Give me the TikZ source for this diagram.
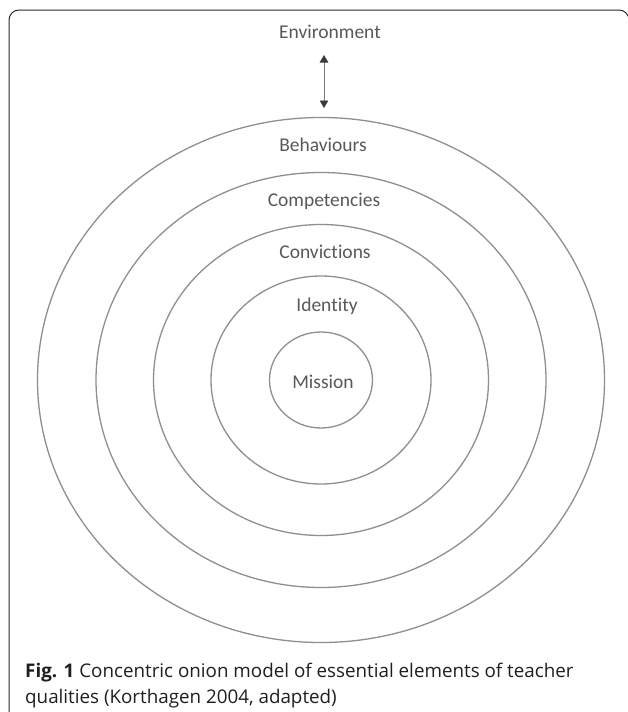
\documentclass[tikz,border=0pt]{standalone}
\usepackage{fontspec}
\setmainfont{Carlito}[Ligatures=NoCommon]
\newfontfamily\capfont{Open Sans}
\usetikzlibrary{arrows.meta,shapes.geometric}
\definecolor{ringgray}{HTML}{8F8F8F}
\definecolor{lblgray}{HTML}{595959}
\definecolor{framec}{HTML}{2A2A2A}
\definecolor{shaftc}{HTML}{7A7A7A}
\definecolor{headc}{HTML}{3A3A3A}
\begin{document}
\begin{tikzpicture}[x=1pt,y=-1pt,
  ring/.style={draw=ringgray, line width=1.3pt, ellipse, inner sep=0pt},
  lbl/.style={text=lblgray, font=\fontsize{19.5}{22}\selectfont, anchor=base, inner sep=0pt},
  capt/.style={text=black!88, font=\capfont\fontsize{18.8}{26}\selectfont, anchor=base west, inner sep=0pt},
  ]
\useasboundingbox (0,0) rectangle (627,712);
\fill[white] (0,0) rectangle (627,712);
\draw[framec, line width=1pt, rounded corners=10pt] (9,730) -- (9,10) -- (629,10) -- (629,730);
\coordinate (c) at (321,380);
\node[ring, minimum width=567pt, minimum height=525pt] (behav) at (c) {};
\node[ring, minimum width=450pt, minimum height=415pt] (comp) at (c) {};
\node[ring, minimum width=335pt, minimum height=311pt] (conv) at (c) {};
\node[ring, minimum width=220pt, minimum height=208pt] (ident) at (c) {};
\node[ring, minimum width=103pt, minimum height=96pt] (miss) at (c) {};
\node[lbl] (tenv) at (330,38) {Environment};
\node[lbl] (tbeh) at (323,151) {Behaviours};
\node[lbl] (tcomp) at (324,206) {Competencies};
\node[lbl] (tconv) at (325,258) {Convictions};
\node[lbl] (tid) at (327,311) {Identity};
\node[lbl] (tmis) at (323,388) {Mission};
\coordinate (atop) at (324,55);
\coordinate (abot) at (324,108);
\draw[shaftc, line width=0.9pt,
  {Triangle[width=8.5pt,length=7.5pt,color=headc]}-{Triangle[width=8.5pt,length=7.5pt,color=headc]}]
  (atop) -- (abot);
\node[capt] (cap1) at (25,677) {\textbf{Fig. 1} Concentric onion model of essential elements of teacher};
\node[capt] (cap2) at (25,703) {qualities (Korthagen 2004, adapted)};
\end{tikzpicture}
\end{document}
